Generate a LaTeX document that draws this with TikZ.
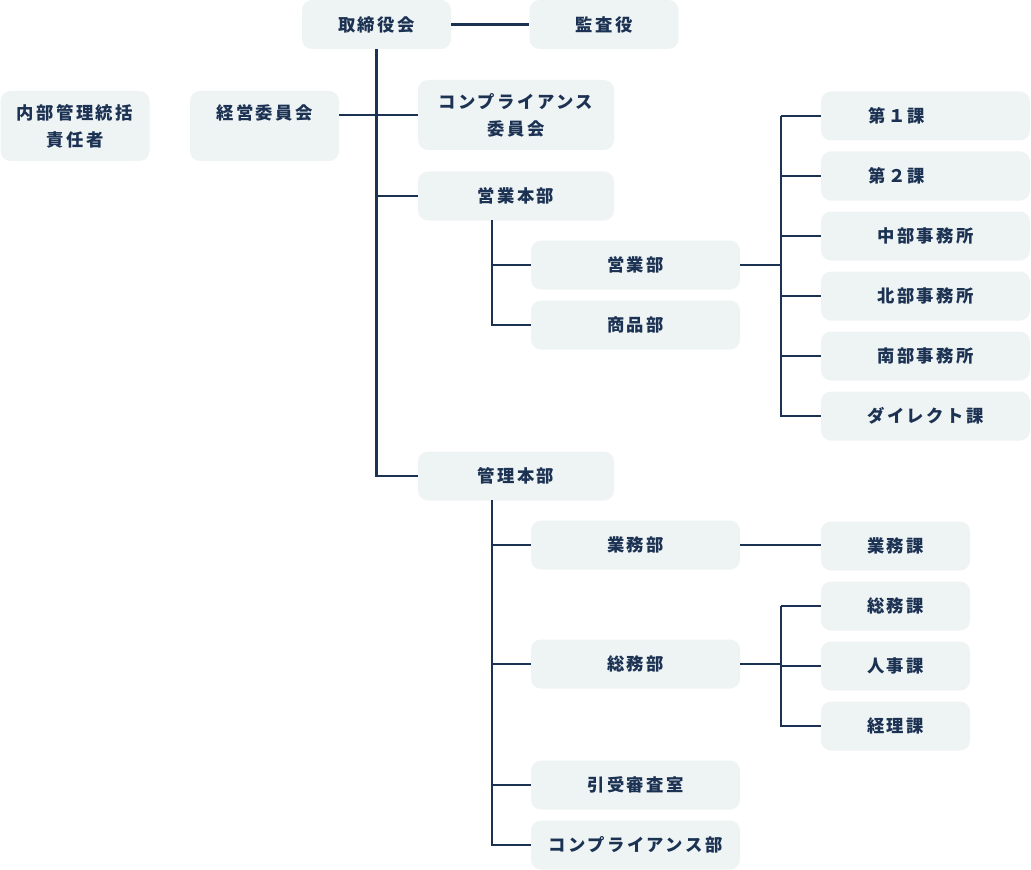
\documentclass[tikz,border=0pt]{standalone}
\usepackage{fontspec}
\newfontfamily\jp{Noto Sans CJK JP}[LetterSpace=14]
\definecolor{boxbg}{HTML}{EEF3F4}
\definecolor{ink}{HTML}{1C3253}
\tikzset{
  box/.style={fill=boxbg, rounded corners=7.5pt, inner sep=0pt, text=ink,
    align=center, font=\jp\bfseries\fontsize{13}{20.25}\selectfont},
  boxS/.style={box, minimum width=111.75pt, minimum height=36.75pt},
  boxM/.style={box, minimum width=147pt, minimum height=36.75pt},
  boxL/.style={box, minimum width=156.75pt, minimum height=36.75pt},
  twoline/.style={minimum height=52.5pt},
  link/.style={draw=ink, line width=1.6pt}
}
\begin{document}
\begin{tikzpicture}[x=0.75pt,y=-0.75pt]
\useasboundingbox (0,0) rectangle (1031,870);
% top
\node[boxS] (torishimari) at (376.5,24.5) {取締役会};
\node[boxS] (kansa) at (604,24.5) {監査役};
\node[boxS,twoline] (naibu) at (75,126) {内部管理統括\\責任者};
\node[boxS,twoline] (keiei) at (264.5,126) {経営委員会\\\mbox{}};
\node[boxM,twoline] (iinkai) at (516,115) {コンプライアンス\\委員会};
\node[boxM] (eigyohq) at (516,196) {営業本部};
\node[boxM] (kanrihq) at (516,476) {管理本部};
% sales
\node[boxL] (eigyobu) at (635.5,265) {営業部};
\node[boxL] (shohin) at (635.5,325) {商品部};
\node[boxL] (ka1) at (925.5,116) {第１課\hspace*{43pt}};
\node[boxL] (ka2) at (925.5,176) {第２課\hspace*{43pt}};
\node[boxL] (chubu) at (925.5,236) {中部事務所};
\node[boxL] (hokubu) at (925.5,296) {北部事務所};
\node[boxL] (nanbu) at (925.5,356) {南部事務所};
\node[boxL] (direct) at (925.5,416) {ダイレクト課};
% admin
\node[boxL] (gyomubu) at (635.5,545) {業務部};
\node[boxL] (somubu) at (635.5,664) {総務部};
\node[boxL] (hikiuke) at (635.5,785) {引受審査室};
\node[boxL] (compbu) at (635.5,845) {コンプライアンス部};
\node[boxS] (gyomuka) at (895.5,546) {業務課};
\node[boxS] (somuka) at (895.5,606) {総務課};
\node[boxS] (jinji) at (895.5,666) {人事課};
\node[boxS] (keiri) at (895.5,726) {経理課};
% lines
\coordinate (eb) at (492,220);
\coordinate (kb) at (492,500);
\coordinate (ej) at (781,265);
\coordinate (sj) at (781,664);
\draw[link] (torishimari) -- (kansa);
\draw[link] (torishimari.south) -- (torishimari.south |- kanrihq.west) -- (kanrihq.west);
\draw[link] (keiei.east |- iinkai.west) -- (iinkai.west);
\draw[link] (torishimari.south |- eigyohq.west) -- (eigyohq.west);
\draw[link] (eb) |- (shohin.west);
\draw[link] (eb |- eigyobu.west) -- (eigyobu.west);
\draw[link] (eigyobu.east) -- (ej);
\draw[link] (ej |- ka1.west) |- (direct.west);
\foreach \n in {ka1,ka2,chubu,hokubu,nanbu}
  \draw[link] (ej |- \n.west) -- (\n.west);
\draw[link] (kb) |- (compbu.west);
\foreach \n in {gyomubu,somubu,hikiuke}
  \draw[link] (kb |- \n.west) -- (\n.west);
\draw[link] (gyomubu.east) -- (gyomubu.east -| gyomuka.west);
\draw[link] (somubu.east) -- (sj);
\draw[link] (sj |- somuka.west) |- (keiri.west);
\foreach \n in {somuka,jinji}
  \draw[link] (sj |- \n.west) -- (\n.west);
\end{tikzpicture}
\end{document}
